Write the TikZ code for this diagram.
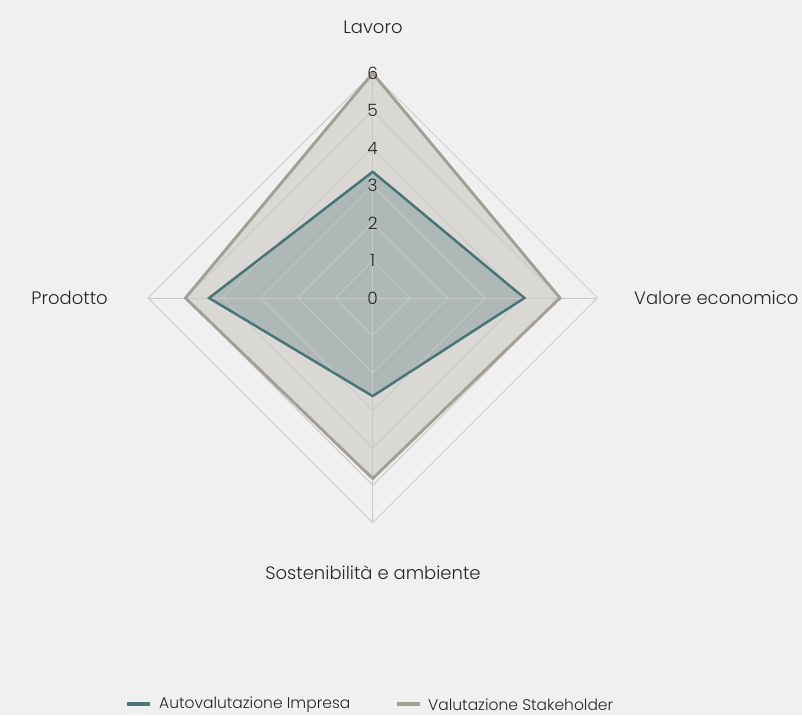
\documentclass[tikz,border=0pt]{standalone}
\usepackage{fontspec}
\setmainfont{Poppins Light}
\usetikzlibrary{calc}
\definecolor{bg}{HTML}{F0F0F0}
\definecolor{gridc}{HTML}{C8C8C8}
\definecolor{autoline}{HTML}{4A7476}
\definecolor{autofill}{HTML}{ADB8B7}
\definecolor{stakeline}{HTML}{A39E96}
\definecolor{stakefill}{HTML}{D9D8D5}
\definecolor{txt}{HTML}{262626}
\tikzset{
  gridline/.style={draw=gridc, line width=0.8pt},
  axislab/.style={font=\fontsize{18}{21}\selectfont, text=txt, inner sep=0pt},
  ticklab/.style={font=\fontsize{17}{20}\selectfont, text=txt, inner sep=0pt},
  legtext/.style={font=\fontsize{15.5}{18}\selectfont, text=txt, inner sep=0pt, anchor=west},
  autoser/.style={draw=autoline, fill=autofill, line width=2.2pt, line join=miter},
  stakeser/.style={draw=stakeline, fill=stakefill, line width=2.6pt, line join=miter},
}
\begin{document}
\begin{tikzpicture}[x=1pt,y=-1pt]
\fill[bg] (0,0) rectangle (802,715);
\useasboundingbox (0,0) rectangle (802,715);
\def\u{37.45}
\coordinate (c) at (372.7,298);
% Stakeholder series
\path[stakeser] ($(c)+(0,-6*\u)$) -- ($(c)+(5*\u,0)$) -- ($(c)+(0,4.82*\u)$) -- ($(c)+(-5*\u,0)$) -- cycle;
% Autovalutazione series
\path[autoser] ($(c)+(0,-3.37*\u)$) -- ($(c)+(4.05*\u,0)$) -- ($(c)+(0,2.62*\u)$) -- ($(c)+(-4.37*\u,0)$) -- cycle;
% grid
\foreach \k in {1,...,6}{
  \draw[gridline] ($(c)+(0,-\k*\u)$) -- ($(c)+(\k*\u,0)$) -- ($(c)+(0,\k*\u)$) -- ($(c)+(-\k*\u,0)$) -- cycle;
}
\draw[gridline] ($(c)+(0,-6*\u)$) -- ($(c)+(0,6*\u)$);
\draw[gridline] ($(c)+(-6*\u,0)$) -- ($(c)+(6*\u,0)$);
% redraw series outlines on top
\draw[stakeline, line width=2.6pt] ($(c)+(0,-6*\u)$) -- ($(c)+(5*\u,0)$) -- ($(c)+(0,4.82*\u)$) -- ($(c)+(-5*\u,0)$) -- cycle;
\draw[autoline, line width=2.2pt] ($(c)+(0,-3.37*\u)$) -- ($(c)+(4.05*\u,0)$) -- ($(c)+(0,2.62*\u)$) -- ($(c)+(-4.37*\u,0)$) -- cycle;
% tick labels
\foreach \k in {0,...,6}{
  \node[ticklab] (t\k) at ($(c)+(0,-\k*\u)$) {\k};
}
% axis labels
\node[axislab] (lav) at (373,27) {Lavoro};
\node[axislab, anchor=east] (prod) at (108,298) {Prodotto};
\node[axislab, anchor=west] (val) at (634,298) {Valore economico};
\node[axislab] (sost) at (373,573) {Sostenibilità e ambiente};
% legend
\draw[autoline, line width=4pt] (127,704) -- (150,704);
\node[legtext] (la) at (159,705) {Autovalutazione Impresa};
\draw[stakeline, line width=4pt] (397,704) -- (420,704);
\node[legtext] (ls) at (428,705) {Valutazione Stakeholder};
\end{tikzpicture}
\end{document}
